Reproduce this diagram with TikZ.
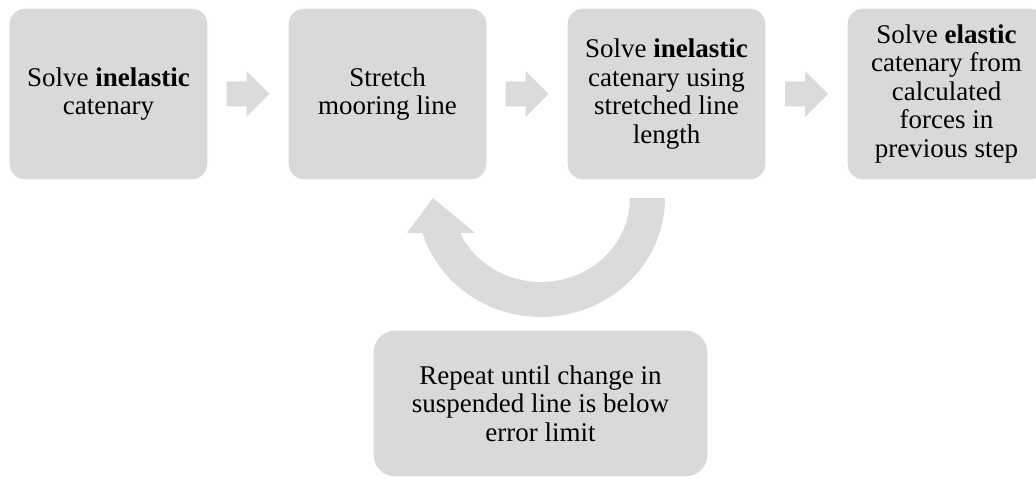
\documentclass[tikz,border=0pt]{standalone}
\usepackage{fontspec}
\setmainfont{Liberation Serif}
\usetikzlibrary{calc}
\definecolor{boxgray}{HTML}{D9D9D9}
\definecolor{arrowgray}{HTML}{DBDBDB}
\tikzset{
  stepbox/.style={draw=white, line width=1.2pt, fill=boxgray, rounded corners=16pt,
    minimum width=199pt, minimum height=172pt, inner sep=0pt, align=center,
    font=\fontsize{27}{28.5}\selectfont},
  loopbox/.style={stepbox, minimum width=335pt, minimum height=147pt, rounded corners=22pt},
  arrowfill/.style={fill=arrowgray},
  blockarrow/.pic={\fill[arrowfill] (-21.5,-12.5) -- (-1.5,-12.5) -- (-1.5,-23) -- (21.5,0)
     -- (-1.5,23) -- (-1.5,12.5) -- (-21.5,12.5) -- cycle;}
}
\begin{document}
\begin{tikzpicture}[x=1pt,y=1pt]
\useasboundingbox (0,0) rectangle (1036,479);
\node[stepbox] (b1) at (108.5,385) {Solve \textbf{inelastic}\\catenary};
\node[stepbox] (b2) at (387.5,385) {Stretch\\mooring line};
\node[stepbox] (b3) at (666.5,385) {Solve \textbf{inelastic}\\catenary using\\stretched line\\length};
\node[stepbox] (b4) at (946.5,385) {Solve \textbf{elastic}\\catenary from\\calculated\\forces in\\previous step};
\node[loopbox] (b5) at (540.5,75.5) {Repeat until change in\\suspended line is below\\error limit};
\coordinate (a1) at ($(b1.east)!0.5!(b2.west)$);
\coordinate (a2) at ($(b2.east)!0.5!(b3.west)$);
\coordinate (a3) at ($(b3.east)!0.5!(b4.west)$);
\pic at (a1) {blockarrow};
\pic at (a2) {blockarrow};
\pic at (a3) {blockarrow};
\coordinate (c) at (541,281);
\fill[arrowfill] ($(c)+(124,0)$) arc[start angle=0, end angle=-162.9, x radius=124pt, y radius=119pt]
  -- ($(c)+(-134,-35)$) -- ($(c)+(-108,0)$) -- ($(c)+(-66,-35)$) -- ($(c)+(-80.9,-35)$)
  arc[start angle=-155.4, end angle=0, x radius=89pt, y radius=84pt] -- cycle;
\end{tikzpicture}
\end{document}
